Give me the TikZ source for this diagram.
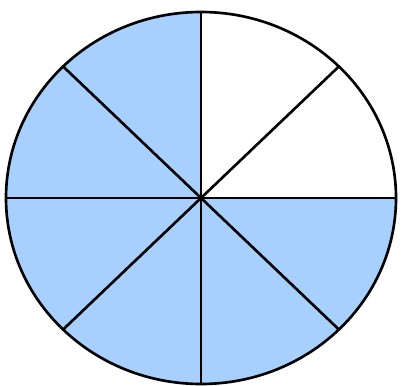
\documentclass[tikz,border=0pt]{standalone}
\usepackage{tikz}
\usetikzlibrary{calc}
\definecolor{pieblue}{RGB}{168,208,255}
\tikzstyle{spoke} = [line width=1.5pt, black]
\tikzstyle{rim} = [line width=1.5pt, black]

\begin{document}
\begin{tikzpicture}[x=0.02cm, y=0.02cm]
    \useasboundingbox (0,0) rectangle (401,385);
    \coordinate (c) at (201,187);
    
    % Shaded part: six of eight slices
    \fill [pieblue] (c) -- ($(c)+(0,186)$) arc[start angle=90, end angle=360, x radius=195, y radius=186] -- cycle;
    
    % Spokes
    \foreach \a in {0,45,...,315} {
        \draw [spoke] (c) -- ($(c)+({195*cos(\a)},{186*sin(\a)})$);
    }
    
    % Outline
    \draw [rim] (c) ellipse[x radius=195, y radius=186];
\end{tikzpicture}
\end{document}
